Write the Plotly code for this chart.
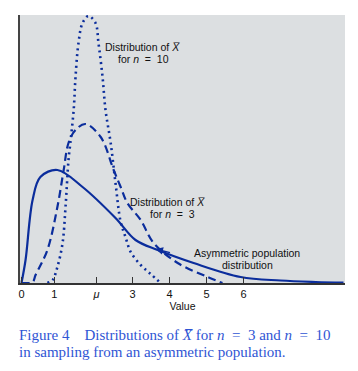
import plotly.graph_objects as go

# Population (asymmetric) distribution
pop_x = [0, 0.11, 0.30, 0.51, 0.97, 1.65, 2.54, 3.08, 3.68, 4.65, 5.92, 7.0, 7.95, 8.7]
pop_y = [0, 23, 83, 106, 113, 96, 65, 43, 33, 20, 6, 2.5, 1, 0.3]

# Distribution of X-bar, n = 3
n3_x = [0, 0.3, 0.38, 0.70, 0.97, 1.14, 1.27, 1.46, 1.73, 2.14, 2.49, 2.68, 2.86, 3.22, 3.57, 4.22, 5.03, 5.43]
n3_y = [0, 1, 8, 33, 76, 113, 140, 153, 159, 146, 113, 96, 80, 63, 40, 20, 6, 0]

# Distribution of X-bar, n = 10
n10_x = [0.70, 0.84, 0.97, 1.11, 1.19, 1.27, 1.32, 1.41, 1.46, 1.54, 1.65, 1.81, 2.0, 2.08, 2.19, 2.27,
         2.41, 2.54, 2.68, 2.81, 2.95, 3.22, 3.49, 3.76]
n10_y = [0, 3, 16, 40, 76, 123, 140, 173, 206, 240, 260, 267, 260, 240, 206, 173,
         140, 100, 61, 46, 31, 18, 9, 0]

tick_vals = [0, 0.89, 2.03, 3, 4, 5, 6]
tick_text = ["0", "1", "<i>μ</i>", "3", "4", "5", "6"]

LINE = "#0b2d9c"
CAP = "#2f55d4"
SP = "\u00a0\u00a0"

fig = go.Figure()
fig.add_trace(go.Scatter(x=pop_x, y=pop_y, mode="lines",
                         line=dict(color=LINE, width=2.2, shape="spline", smoothing=1)))
fig.add_trace(go.Scatter(x=n3_x, y=n3_y, mode="lines",
                         line=dict(color=LINE, width=2.2, dash="8px,4.5px", shape="spline", smoothing=1)))
fig.add_trace(go.Scatter(x=n10_x, y=n10_y, mode="lines",
                         line=dict(color=LINE, width=2.6, dash="2px,3.8px", shape="spline", smoothing=1)))

ann_font = dict(family="Liberation Sans, Arial, sans-serif", size=10.5, color="#111111")
labels = [
    (3.29, 236, "Distribution of <i>X̅</i>"),
    (3.29, 224, "for <i>n</i>" + SP + "=" + SP + "10"),
    (3.97, 81, "Distribution of <i>X̅</i>"),
    (4.08, 69, "for <i>n</i>" + SP + "=" + SP + "3"),
    (6.09, 30, "Asymmetric population"),
    (6.1, 18, "distribution"),
]
for lx, ly, lt in labels:
    fig.add_annotation(x=lx, y=ly, xref="x", yref="y", showarrow=False, font=ann_font,
                       text=lt, borderpad=0)

fig.add_annotation(x=3.62, y=34, xref="x", yref="y", showarrow=True, ax=16, ay=4,
                   arrowhead=2, arrowsize=1, arrowwidth=1.5, arrowcolor=LINE, text="")

cap_font = dict(family="Liberation Serif, Times New Roman, serif", size=15, color=CAP)
fig.add_annotation(x=-0.006, y=-0.194, xref="paper", yref="paper", showarrow=False,
                   xanchor="left", yanchor="middle", font=cap_font, borderpad=0,
                   text="Figure 4\u00a0\u00a0\u00a0\u00a0Distributions of <i>X̅</i> for <i>n</i>" + SP + "=" + SP
                        + "3 and <i>n</i>" + SP + "=" + SP + "10")
fig.add_annotation(x=-0.006, y=-0.257, xref="paper", yref="paper", showarrow=False,
                   xanchor="left", yanchor="middle", font=cap_font, borderpad=0,
                   text="in sampling from an asymmetric population.")

# page body has an 8px margin, so the figure is offset accordingly
fig.update_layout(
    width=350, height=363,
    margin=dict(l=12, r=13, t=7, b=88),
    paper_bgcolor="white", plot_bgcolor="#dcdfe1",
    showlegend=False,
    xaxis=dict(range=[-0.04, 8.74], tickvals=tick_vals, ticktext=tick_text,
               ticks="inside", ticklen=6, tickcolor="#333333", tickwidth=1,
               showgrid=False, zeroline=False, showline=True, linecolor="#333333", linewidth=1.5,
               tickfont=dict(family="Liberation Sans, Arial, sans-serif", size=11, color="#111111"),
               title=dict(text="Value", standoff=0,
                          font=dict(family="Liberation Sans, Arial, sans-serif", size=10.5, color="#111111"))),
    yaxis=dict(range=[0, 268], showticklabels=False, ticks="", showgrid=False, zeroline=False,
               showline=True, linecolor="#444444", linewidth=2),
)

fig.write_html("out.html")
